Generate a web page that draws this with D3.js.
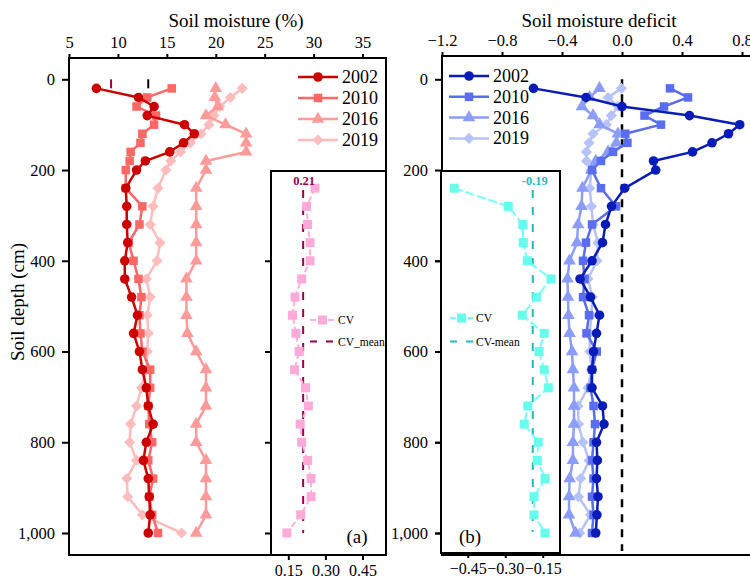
<!DOCTYPE html>
<html><head><meta charset="utf-8">
<script src="https://cdn.jsdelivr.net/npm/d3@7"></script>
<style>body{margin:0;background:#fff}svg{display:block}text{font-family:"Liberation Serif","Times New Roman",serif}</style>
</head><body><svg id="c" width="750" height="580"></svg>
<script>
// ---------------- data ----------------
const depths = [20,40,60,80,100,120,140,160,180,200,240,280,320,360,400,440,480,520,560,600,640,680,720,760,800,840,880,920,960,1000];
const years = ["2002","2010","2016","2019"];
const sm2002 = [7.8,12.1,13.7,13.0,16.8,17.8,16.7,15.3,12.8,11.9,10.8,10.9,10.9,11.0,10.7,10.7,11.4,12.0,11.6,12.2,12.5,12.9,13.1,13.6,12.9,12.6,13.1,13.2,13.3,13.1];
const sm2010 = [15.5,13.0,11.9,13.9,13.7,12.5,12.3,11.3,11.2,10.8,10.8,12.5,12.2,11.1,11.6,12.1,12.4,12.2,12.3,12.5,13.3,13.3,13.1,13.2,13.5,13.1,13.6,13.2,13.5,14.1];
const sm2016 = [20.0,19.9,20.2,19.0,21.0,23.1,23.1,23.1,19.0,19.0,18.0,18.0,18.0,18.0,18.0,17.0,17.0,17.0,17.1,18.0,19.0,19.0,19.0,18.0,18.0,19.0,19.0,19.0,19.0,18.0];
const sm2019 = [22.7,21.5,20.4,19.8,19.3,18.5,17.4,16.4,15.4,14.9,14.1,13.6,13.3,14.3,14.0,12.9,13.3,13.0,13.1,13.0,12.9,12.4,11.9,11.3,11.2,11.9,10.9,11.0,12.5,16.5];
const def2002 = [-0.59,-0.24,0.0,0.45,0.785,0.71,0.60,0.47,0.21,0.225,0.018,-0.07,-0.11,-0.13,-0.20,-0.28,-0.21,-0.15,-0.17,-0.19,-0.20,-0.20,-0.13,-0.12,-0.17,-0.164,-0.17,-0.16,-0.167,-0.175];
const def2010 = [0.32,0.44,0.28,0.15,0.26,0.022,0.036,-0.06,-0.14,-0.20,-0.14,-0.04,-0.20,-0.24,-0.26,-0.25,-0.26,-0.22,-0.237,-0.168,-0.20,-0.21,-0.19,-0.18,-0.19,-0.20,-0.19,-0.20,-0.19,-0.20];
const def2016 = [-0.15,-0.215,-0.267,-0.193,-0.149,-0.027,-0.038,-0.093,-0.175,-0.204,-0.264,-0.27,-0.293,-0.30,-0.35,-0.364,-0.36,-0.357,-0.35,-0.333,-0.327,-0.32,-0.32,-0.32,-0.327,-0.327,-0.349,-0.353,-0.353,-0.31];
const def2019 = [-0.004,-0.093,-0.027,-0.071,-0.104,-0.193,-0.22,-0.237,-0.237,-0.204,-0.215,-0.204,-0.193,-0.16,-0.167,-0.227,-0.198,-0.204,-0.215,-0.215,-0.204,-0.227,-0.293,-0.29,-0.26,-0.22,-0.275,-0.29,-0.21,-0.282];
const cvDepths = [240,280,320,360,400,440,480,520,560,600,640,680,720,760,800,840,880,920,960,1000];
const cvMoisture = [0.258,0.224,0.228,0.238,0.238,0.204,0.177,0.167,0.181,0.194,0.175,0.22,0.231,0.198,0.204,0.228,0.242,0.242,0.2,0.144];
const cvDeficit = [-0.504,-0.288,-0.23,-0.228,-0.212,-0.117,-0.174,-0.232,-0.144,-0.165,-0.144,-0.128,-0.21,-0.224,-0.168,-0.172,-0.141,-0.185,-0.185,-0.141];
const cvMeanMoisture = 0.21;
const cvMeanDeficit = -0.19;
const topMarks = [9.3, 13.1];
const depthTicks = [0,200,400,600,800,1000];
const insetDepthTicks = [400,600,800,1000];
const smTicks = [5,10,15,20,25,30,35];
const defTicks = [-1.2,-0.8,-0.4,0.0,0.4,0.8];
const cvTicksA = [0.15,0.30,0.45];
const cvTicksB = [-0.45,-0.30,-0.15];

// ---------------- drawing ----------------
const svg = d3.select("#c");
const y = d3.scaleLinear().domain([0,1000]).range([79.3,533]);
const xL = d3.scaleLinear().domain([5,37.4]).range([69,386]);
const xR = d3.scaleLinear().domain([-1.2,1.0]).range([442,772]);
const xA = d3.scaleLinear().domain([0.08,0.545]).range([271,386]);
const xB = d3.scaleLinear().domain([-0.557,-0.081]).range([441,560]);

const redCols = ["#cc0000","#ff6666","#ff9a9a","#ffbcbc"];
const blueCols = ["#0a1cb8","#5a6cf0","#8c9cfa","#b6c2fa"];
const shapes = [d3.symbolCircle,d3.symbolSquare,d3.symbolTriangle,d3.symbolSquare];
const sizes = [72,72,70,62];
const rots = [0,0,0,45];

function sym(i){ return d3.symbol().type(shapes[i]).size(sizes[i])(); }

function drawSeries(g, xs, vals, col, i){
  const pts = depths.map((d,k)=>[xs(vals[k]), y(d)]);
  g.append("path").attr("d", d3.line()(pts)).attr("fill","none").attr("stroke",col).attr("stroke-width",2.5);
  g.selectAll(null).data(pts).enter().append("path").attr("d",sym(i))
    .attr("transform",p=>`translate(${p[0]},${p[1]}) rotate(${rots[i]})`).attr("fill",col);
}

function styleAxis(g, fs){
  g.select(".domain").remove();
  g.selectAll(".tick line").attr("stroke","#000").attr("stroke-width",2);
  g.selectAll("text").attr("font-size",fs).attr("fill","#000").style("font-family",'"Liberation Serif",serif');
}

// ----- left panel -----
const L = svg.append("g");
const Ls = L.append("g");
[sm2019,sm2016,sm2010,sm2002].forEach((v,j)=>{ const i=3-j; drawSeries(Ls,xL,v,redCols[i],i); });
L.selectAll(null).data(topMarks).enter().append("line")
  .attr("x1",d=>xL(d)).attr("x2",d=>xL(d)).attr("y1",y(0)).attr("y2",y(0)+9)
  .attr("stroke",(d,i)=>i===0?"#990055":"#000").attr("stroke-width",2);
years.forEach((yr,i)=>{
  const gy = 77 + i*21;
  L.append("line").attr("x1",298).attr("x2",338).attr("y1",gy).attr("y2",gy).attr("stroke",redCols[i]).attr("stroke-width",2.5);
  L.append("path").attr("d",sym(i)).attr("transform",`translate(318,${gy}) rotate(${rots[i]})`).attr("fill",redCols[i]);
  L.append("text").attr("x",342).attr("y",gy+6).attr("font-size",18).text(yr);
});
L.append("rect").attr("x",69).attr("y",58).attr("width",317).attr("height",497).attr("fill","none").attr("stroke","#000").attr("stroke-width",2);
styleAxis(L.append("g").attr("transform","translate(0,58)").call(d3.axisTop(xL).tickValues(smTicks).tickSize(4).tickPadding(6)),16.5);
styleAxis(L.append("g").attr("transform","translate(69,0)").call(d3.axisLeft(y).tickValues(depthTicks).tickSize(7).tickPadding(7)),16.5);
L.append("text").attr("x",236).attr("y",27).attr("text-anchor","middle").attr("font-size",19).text("Soil moisture (%)");
L.append("text").attr("transform","translate(24,302) rotate(-90)").attr("text-anchor","middle").attr("font-size",19).text("Soil depth (cm)");

// inset a
const A = svg.append("g");
A.append("rect").attr("x",271).attr("y",171).attr("width",115).attr("height",384).attr("fill","#fff").attr("stroke","#000").attr("stroke-width",2);
A.append("line").attr("x1",xA(cvMeanMoisture)).attr("x2",xA(cvMeanMoisture)).attr("y1",190).attr("y2",533)
  .attr("stroke","#990055").attr("stroke-width",2).attr("stroke-dasharray","8,9");
const cvAp = cvDepths.map((d,k)=>[xA(cvMoisture[k]),y(d)]);
A.append("path").attr("d",d3.line()(cvAp)).attr("fill","none").attr("stroke","#ffb0dc").attr("stroke-width",2).attr("stroke-dasharray","6,3");
A.selectAll(null).data(cvAp).enter().append("rect").attr("x",p=>p[0]-4.5).attr("y",p=>p[1]-4.5).attr("width",9).attr("height",9).attr("fill","#ffaad8");
A.append("text").attr("x",xA(cvMeanMoisture)+1).attr("y",185).attr("text-anchor","middle").attr("font-size",12.5).attr("font-weight","bold").attr("fill","#990055").text("0.21");
A.append("line").attr("x1",310).attr("x2",335).attr("y1",320).attr("y2",320).attr("stroke","#ffb0dc").attr("stroke-width",2).attr("stroke-dasharray","6,3");
A.append("rect").attr("x",318).attr("y",315.5).attr("width",9).attr("height",9).attr("fill","#ffaad8");
A.append("text").attr("x",338).attr("y",324).attr("font-size",11.5).text("CV");
A.append("line").attr("x1",310).attr("x2",335).attr("y1",341.5).attr("y2",341.5).attr("stroke","#990055").attr("stroke-width",2).attr("stroke-dasharray","7,9");
A.append("text").attr("x",338).attr("y",345.5).attr("font-size",11.5).text("CV_mean");
A.append("text").attr("x",357).attr("y",543).attr("text-anchor","middle").attr("font-size",19).text("(a)");
styleAxis(A.append("g").attr("transform","translate(0,555)").call(d3.axisBottom(xA).tickValues(cvTicksA).tickFormat(d3.format(".2f")).tickSize(5).tickPadding(5)),16);
styleAxis(A.append("g").attr("transform","translate(271,0)").call(d3.axisLeft(y).tickValues(insetDepthTicks).tickSize(6).tickFormat("")),16);

// ----- right panel -----
const R = svg.append("g");
R.append("line").attr("x1",xR(0)).attr("x2",xR(0)).attr("y1",y(0)).attr("y2",551)
  .attr("stroke","#000").attr("stroke-width",2.5).attr("stroke-dasharray","8,7");
const Rs = R.append("g");
[def2019,def2016,def2010,def2002].forEach((v,j)=>{ const i=3-j; drawSeries(Rs,xR,v,blueCols[i],i); });
years.forEach((yr,i)=>{
  const gy = 76 + i*20.8;
  R.append("line").attr("x1",449).attr("x2",489).attr("y1",gy).attr("y2",gy).attr("stroke",blueCols[i]).attr("stroke-width",2.5);
  R.append("path").attr("d",sym(i)).attr("transform",`translate(469,${gy}) rotate(${rots[i]})`).attr("fill",blueCols[i]);
  R.append("text").attr("x",493).attr("y",gy+6).attr("font-size",18).text(yr);
});
R.append("rect").attr("x",442).attr("y",56).attr("width",330).attr("height",499).attr("fill","none").attr("stroke","#000").attr("stroke-width",2);
styleAxis(R.append("g").attr("transform","translate(0,56)").call(d3.axisTop(xR).tickValues(defTicks).tickFormat(d3.format(".1f")).tickSize(4).tickPadding(6)),16.5);
styleAxis(R.append("g").attr("transform","translate(442,0)").call(d3.axisLeft(y).tickValues(depthTicks).tickSize(7).tickPadding(7).tickFormat("")),16.5);
R.append("text").attr("x",599).attr("y",27).attr("text-anchor","middle").attr("font-size",19).text("Soil moisture deficit");

// inset b
const B = svg.append("g");
B.append("rect").attr("x",441).attr("y",171).attr("width",119).attr("height",382).attr("fill","#fff").attr("stroke","#000").attr("stroke-width",2);
B.append("line").attr("x1",xB(cvMeanDeficit)).attr("x2",xB(cvMeanDeficit)).attr("y1",190).attr("y2",532)
  .attr("stroke","#22bbbb").attr("stroke-width",2).attr("stroke-dasharray","8,9");
const cvBp = cvDepths.map((d,k)=>[xB(cvDeficit[k]),y(d)]);
B.append("path").attr("d",d3.line()(cvBp)).attr("fill","none").attr("stroke","#77ffff").attr("stroke-width",2).attr("stroke-dasharray","9,3");
B.selectAll(null).data(cvBp).enter().append("rect").attr("x",p=>p[0]-4.5).attr("y",p=>p[1]-4.5).attr("width",9).attr("height",9).attr("fill","#66ffee");
B.append("text").attr("x",xB(cvMeanDeficit)+2).attr("y",185).attr("text-anchor","middle").attr("font-size",12.5).attr("font-weight","bold").attr("fill","#22bbbb").text("-0.19");
B.append("line").attr("x1",450).attr("x2",473).attr("y1",318).attr("y2",318).attr("stroke","#77ffff").attr("stroke-width",2).attr("stroke-dasharray","6,3");
B.append("rect").attr("x",457).attr("y",313.5).attr("width",9).attr("height",9).attr("fill","#66ffee");
B.append("text").attr("x",476).attr("y",322).attr("font-size",11.5).text("CV");
B.append("line").attr("x1",450).attr("x2",473).attr("y1",341.5).attr("y2",341.5).attr("stroke","#22bbbb").attr("stroke-width",2).attr("stroke-dasharray","7,9");
B.append("text").attr("x",476).attr("y",345.5).attr("font-size",11.5).text("CV-mean");
B.append("text").attr("x",470).attr("y",543).attr("text-anchor","middle").attr("font-size",19).text("(b)");
styleAxis(B.append("g").attr("transform","translate(0,553)").call(d3.axisBottom(xB).tickValues(cvTicksB).tickFormat(d3.format(".2f")).tickSize(5).tickPadding(5)),16);
styleAxis(B.append("g").attr("transform","translate(441,0)").call(d3.axisLeft(y).tickValues(insetDepthTicks).tickSize(6).tickFormat("")),16);
R.append("g").attr("transform","translate(442,0)").call(g=>{
  const ax = d3.axisLeft(y).tickValues(depthTicks).tickSize(7).tickPadding(7);
  g.call(ax); styleAxis(g,16.5); g.selectAll(".tick line").remove();
});
</script></body></html>
